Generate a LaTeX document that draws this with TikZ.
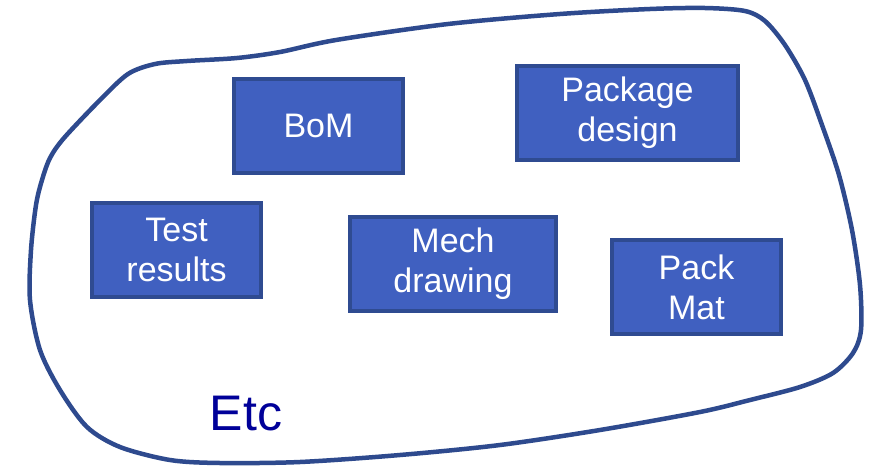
\documentclass[tikz,border=0pt]{standalone}
\usepackage{fontspec}
\setmainfont{Liberation Sans}
\definecolor{boxfill}{HTML}{4060C0}
\definecolor{boxedge}{HTML}{2F4B91}
\definecolor{outline}{HTML}{2E4A8E}
\definecolor{etcblue}{HTML}{000099}
\begin{document}
\begin{tikzpicture}[x=1pt,y=-1pt,
  card/.style={draw=boxedge, fill=boxfill, line width=4pt, rectangle,
    text=white, align=center, inner sep=0pt,
    font=\fontsize{34}{40}\selectfont},
  blob/.style={draw=outline, line width=4.5pt, line join=round}]
\useasboundingbox (0,0) rectangle (873,466);
\fill[white] (0,0) rectangle (873,466);

% enclosing freehand outline
\draw[blob] plot[smooth cycle, tension=0.5] coordinates {
  (128,74) (155,64) (187,61) (237,58) (280,52) (336,40) (448,24) (560,14)
  (650,9) (705,8) (745,11) (765,21) (785,45) (805,80) (822,125) (839,175)
  (852,230) (860,285) (861,330) (853,353) (833,373) (800,387) (750,400)
  (700,412) (600,430) (500,445) (400,455) (300,462) (220,463) (170,460)
  (120,447) (87,427) (60,390) (40,350) (30,300) (31,250) (36,205) (42,180)
  (50,158) (64,138) (100,100)};

% document boxes
\node[card, minimum width=169pt, minimum height=94pt] (bom) at (318.5,126) {BoM};
\node[card, minimum width=221pt, minimum height=94pt] (pkg) at (627.5,113) {Package\\design};
\node[card, minimum width=169pt, minimum height=94pt] (test) at (176.5,250) {Test\\results};
\node[card, minimum width=206pt, minimum height=94pt] (mech) at (453,264) {Mech\\drawing};
\node[card, minimum width=169pt, minimum height=94pt] (pack) at (696.5,287) {Pack\\Mat};

\node[text=etcblue, font=\fontsize{50}{56}\selectfont, inner sep=0pt] (etc) at (246,414) {Etc};
\end{tikzpicture}
\end{document}
